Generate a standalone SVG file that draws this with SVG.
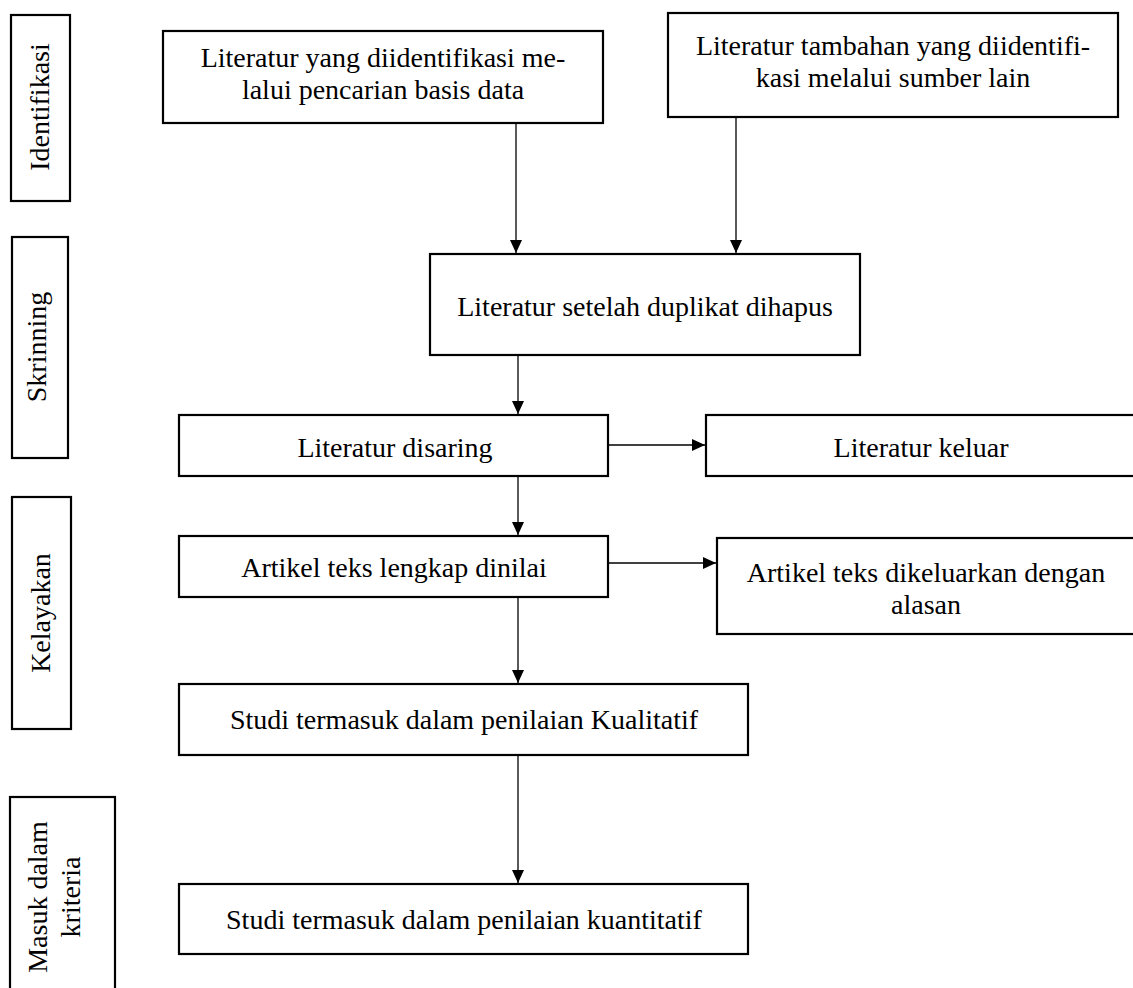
<svg xmlns="http://www.w3.org/2000/svg" width="1133" height="988" viewBox="0 0 1133 988">
<style>
.box{fill:#fff;stroke:#000;stroke-width:2.2}
.t{font-family:"Liberation Serif","DejaVu Serif",serif;font-size:28px;fill:#000;text-anchor:middle}
.c{stroke:#000;stroke-width:1.3;fill:none;marker-end:url(#ah)}
</style>
<defs>
<marker id="ah" markerWidth="14" markerHeight="14" refX="13" refY="6" orient="auto" markerUnits="userSpaceOnUse">
<path d="M0,0 L13,6 L0,12 Z" fill="#000"/>
</marker>
</defs>
<rect width="1133" height="988" fill="#fff"/>
<g id="stage-identifikasi"><rect class="box" x="11" y="15" width="59" height="186"/><text class="t" transform="translate(49,107) rotate(-90)">Identifikasi</text></g>
<g id="stage-skrinning"><rect class="box" x="12" y="237" width="56" height="221"/><text class="t" transform="translate(46,347) rotate(-90)">Skrinning</text></g>
<g id="stage-kelayakan"><rect class="box" x="12" y="497" width="59" height="232"/><text class="t" transform="translate(50,613) rotate(-90)">Kelayakan</text></g>
<g id="stage-masuk"><rect class="box" x="10" y="797" width="105" height="210"/><text class="t" transform="translate(47,897) rotate(-90)">Masuk dalam</text><text class="t" transform="translate(80,897) rotate(-90)">kriteria</text></g>
<g id="n1"><rect class="box" x="163" y="31" width="440" height="92"/><text class="t" x="383" y="67">Literatur yang diidentifikasi me-</text><text class="t" x="383" y="99">lalui pencarian basis data</text></g>
<g id="n2"><rect class="box" x="668" y="13" width="450" height="104"/><text class="t" x="893" y="55">Literatur tambahan yang diidentifi-</text><text class="t" x="893" y="87">kasi melalui sumber lain</text></g>
<g id="n3"><rect class="box" x="430" y="254" width="430" height="101"/><text class="t" x="645" y="316">Literatur setelah duplikat dihapus</text></g>
<g id="n4"><rect class="box" x="179" y="415" width="429" height="61"/><text class="t" x="395" y="457">Literatur disaring</text></g>
<g id="n5"><rect class="box" x="706" y="415" width="440" height="61"/><text class="t" x="921" y="457">Literatur keluar</text></g>
<g id="n6"><rect class="box" x="179" y="536" width="429" height="61"/><text class="t" x="394" y="577">Artikel teks lengkap dinilai</text></g>
<g id="n7"><rect class="box" x="717" y="538" width="430" height="96"/><text class="t" x="926" y="582">Artikel teks dikeluarkan dengan</text><text class="t" x="926" y="614">alasan</text></g>
<g id="n8"><rect class="box" x="179" y="684" width="569" height="71"/><text class="t" x="464" y="729">Studi termasuk dalam penilaian Kualitatif</text></g>
<g id="n9"><rect class="box" x="179" y="884" width="569" height="70"/><text class="t" x="464" y="929">Studi termasuk dalam penilaian kuantitatif</text></g>
<g id="connectors">
<line class="c" x1="516" y1="123" x2="516" y2="253"/>
<line class="c" x1="736" y1="117" x2="736" y2="253"/>
<line class="c" x1="518" y1="355" x2="518" y2="414"/>
<line class="c" x1="608" y1="445" x2="705" y2="445"/>
<line class="c" x1="518" y1="476" x2="518" y2="535"/>
<line class="c" x1="608" y1="563" x2="716" y2="563"/>
<line class="c" x1="518" y1="597" x2="518" y2="683"/>
<line class="c" x1="518" y1="755" x2="518" y2="883"/>
</g>
</svg>
